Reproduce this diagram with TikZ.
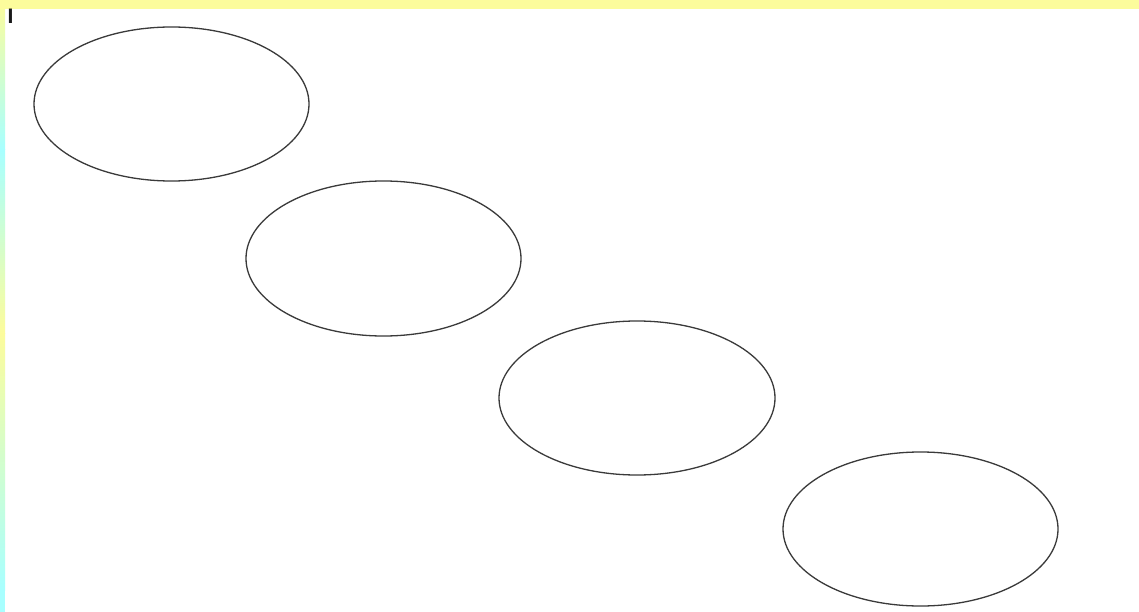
\documentclass[tikz,border=0pt]{standalone}
\usepackage{fontspec}
\setsansfont{Liberation Sans}
\usetikzlibrary{shapes.geometric}
\definecolor{bandyellow}{HTML}{FCFC9C}
\definecolor{bandcyan}{HTML}{A8FFFF}
\definecolor{ringgray}{HTML}{3A3A3A}
\begin{document}
\begin{tikzpicture}[x=1pt,y=-1pt,
  ring/.style={draw=ringgray, line width=1.3pt, ellipse, minimum width=275pt, minimum height=154pt, inner sep=0pt}]
\useasboundingbox (0,0) rectangle (1139,612);
\fill[white] (0,0) rectangle (1139,612);
\shade[top color=bandyellow, bottom color=bandcyan] (0,0) rectangle (5,150);
\shade[top color=bandcyan, bottom color=bandyellow] (0,150) rectangle (5,333);
\shade[top color=bandyellow, bottom color=bandcyan] (0,333) rectangle (5,590);
\fill[bandcyan] (0,590) rectangle (5,612);
\fill[bandyellow] (0,0) rectangle (1139,9);
\node[anchor=north west, inner sep=0pt, font=\sffamily\bfseries\fontsize{21}{21}\selectfont, text=black!90] (mark) at (7.5,8.5) {I};
\node[ring] (e1) at (171.5,104) {};
\node[ring, minimum height=155pt] (e2) at (383.5,258.5) {};
\node[ring, minimum width=276pt] (e3) at (637,398) {};
\node[ring] (e4) at (920.5,529) {};
\end{tikzpicture}
\end{document}
